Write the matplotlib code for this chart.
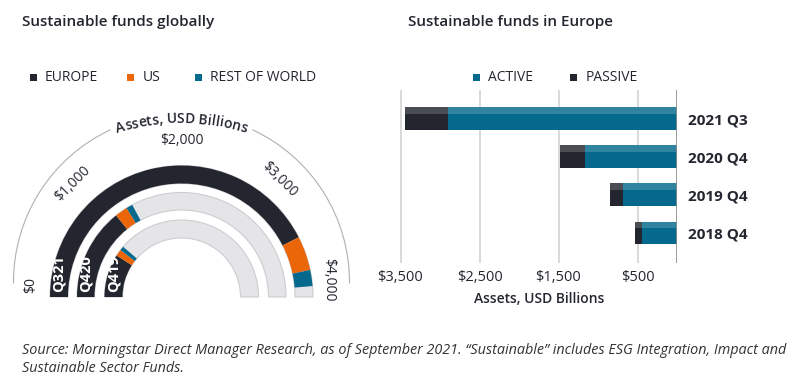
import numpy as np
import matplotlib
matplotlib.use("Agg")
import matplotlib.pyplot as plt
from matplotlib.patches import Wedge, Rectangle, Arc
from matplotlib.font_manager import FontProperties, findfont, get_font

plt.rcParams['font.family'] = ['Open Sans', 'DejaVu Sans']

# ---- data ----
rings = ['Q321', 'Q420', 'Q419']
europe = [3400, 1140, 725]
us = [336, 155, 110]
rest_of_world = [158, 80, 70]
gauge_ticks = [0, 1000, 2000, 3000, 4000]

quarters = ['2021 Q3', '2020 Q4', '2019 Q4', '2018 Q4']
active = [2900, 1165, 687, 447]
passive = [543, 316, 161, 85]
bar_ticks = [3500, 2500, 1500, 500]

DARK = '#23262f'
ORANGE = '#ea6608'
TEAL = '#04698c'
TXT = '#23262f'

W, H = 808, 380
fig = plt.figure(figsize=(W / 100, H / 100), dpi=100)
ax = fig.add_axes([0, 0, 1, 1])
ax.set_xlim(0, W)
ax.set_ylim(0, H)
ax.axis('off')


def Y(y):  # pixel row -> axes y (y up)
    return H - y


# ---- titles ----
ax.text(22, Y(22), 'Sustainable funds globally', fontsize=11, fontweight='semibold',
        color=TXT, va='center')
ax.text(408, Y(22), 'Sustainable funds in Europe', fontsize=11, fontweight='semibold',
        color=TXT, va='center')

# ---- legends ----
def legend_item(x, y, color, label):
    ax.add_patch(Rectangle((x - 3.5, Y(y) - 3.5), 7, 7, color=color, lw=0))
    ax.text(x + 12, Y(y), label, fontsize=10, color=TXT, va='center')

legend_item(33, 77.5, DARK, 'EUROPE')
legend_item(130.5, 77.5, ORANGE, 'US')
legend_item(198.5, 77.5, TEAL, 'REST OF WORLD')
legend_item(476.5, 77.5, TEAL, 'ACTIVE')
legend_item(573.5, 77.5, DARK, 'PASSIVE')

# ---- gauge ----
cx, cy = 181.5, Y(297)
vmax = 4000.0


def ang(v):
    return 180 - v / vmax * 180


radii = [(113.5, 131.5), (87, 104.5), (59, 77)]
for i, (r_in, r_out) in enumerate(radii):
    w = r_out - r_in
    ax.add_patch(Wedge((cx, cy), r_out, 0, 180, width=w, facecolor='#e5e5e8',
                       edgecolor='#cdcdd2', lw=0.8, zorder=1))
    start = 0
    for val, col in [(europe[i], DARK), (us[i], ORANGE), (rest_of_world[i], TEAL)]:
        ax.add_patch(Wedge((cx, cy), r_out, ang(start + val), ang(start), width=w,
                           facecolor=col, edgecolor='none', zorder=2))
        start += val
    ax.text(cx - (r_in + r_out) / 2, Y(274), rings[i], rotation=90, fontsize=10.5,
            fontweight='bold', color='white', ha='center', va='center', zorder=3)

# thin outer arc with gap for curved label
acx, acy, ar = 181.5, Y(282), 168
for t1, t2 in [(-0.5, 65), (115, 180.5)]:
    ax.add_patch(Arc((acx, acy), 2 * ar, 2 * ar, theta1=t1, theta2=t2,
                     color='#b0b0b0', lw=0.8))

# gauge value labels
tick_pos = [(31, 285, 90), (73, 184, 45), (181.5, 140, 0), (279, 179, -45), (329, 280, -90)]
for v, (x, y, rot) in zip(gauge_ticks, tick_pos):
    ax.text(x, Y(y), '${:,}'.format(v), fontsize=10, color=TXT, rotation=rot,
            ha='center', va='center')

# curved "Assets, USD Billions"
label = 'Assets, USD Billions'
fs = 10
prop = FontProperties(family='Open Sans', weight='semibold', size=fs)
font = get_font(findfont(prop))
font.set_size(fs, 100)
adv = []
for ch in label:
    g = font.load_char(ord(ch))
    adv.append(g.linearHoriAdvance / 65536)
total = sum(adv)
tcx, tcy, tr = 181.5, Y(338), 215
pos = 0
for ch, a in zip(label, adv):
    c = pos + a / 2
    th = np.pi / 2 + (total / 2 - c) / tr
    ax.text(tcx + tr * np.cos(th), tcy + tr * np.sin(th), ch, fontproperties=prop,
            color=TXT, rotation=np.degrees(th) - 90, rotation_mode='anchor',
            ha='center', va='baseline')
    pos += a

# ---- bar chart ----
px_per_unit = 0.079
x0 = 677
xl = 3700
left = x0 - xl * px_per_unit
top_px, bot_px = 90, 263
bx = fig.add_axes([left / W, (H - bot_px) / H, (x0 - left) / W, (bot_px - top_px) / H])
bx.set_xlim(xl, 0)
bx.set_ylim(3.787, -0.753)
ypos = np.arange(len(quarters))
bh = 0.6
bx.barh(ypos, active, height=bh, color=TEAL, zorder=2)
bx.barh(ypos, passive, left=active, height=bh, color=DARK, zorder=2)
totals = np.array(active) + np.array(passive)
bx.barh(ypos - bh / 2 + 0.09, totals, height=0.18, color='white', alpha=0.18, lw=0, zorder=3)
bx.set_xticks(bar_ticks)
bx.set_xticklabels(['${:,}'.format(t) for t in bar_ticks], fontsize=10.5, color=TXT)
bx.grid(axis='x', color='#d9d9d9', lw=1.4, zorder=0)
bx.set_axisbelow(True)
bx.axvline(0, color='#8a8a8a', lw=1.2, zorder=4)
for s in bx.spines.values():
    s.set_visible(False)
bx.yaxis.tick_right()
bx.set_yticks(ypos)
bx.set_yticklabels(quarters, fontsize=11, fontweight='bold', color=TXT)
bx.tick_params(length=0)
bx.tick_params(axis='y', pad=8)
bx.tick_params(axis='x', pad=5)
ax.text(539.5, Y(299), 'Assets, USD Billions', fontsize=10, fontweight='semibold',
        color=TXT, ha='center', va='center')

# ---- source ----
src1 = ('Source: Morningstar Direct Manager Research, as of September 2021. '
        '\u201cSustainable\u201d includes ESG Integration, Impact and')
src2 = 'Sustainable Sector Funds.'
ax.text(22, Y(350), src1, fontsize=10.4, style='italic', color='#333333', va='center')
ax.text(22, Y(369), src2, fontsize=10.4, style='italic', color='#333333', va='center')

fig.savefig('out.png', dpi=100, facecolor='white')
